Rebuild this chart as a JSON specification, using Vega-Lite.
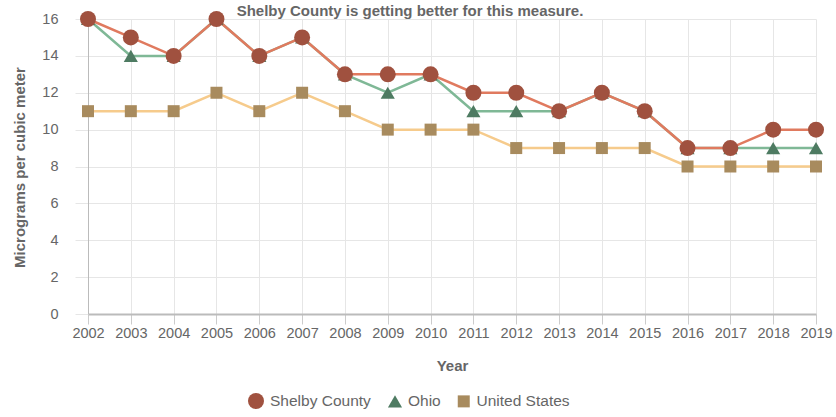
{
  "$schema": "https://vega.github.io/schema/vega-lite/v6.json",
  "autosize": {"type": "none"},
  "width": 728,
  "height": 295,
  "padding": {"left": 88, "top": 19, "right": 20, "bottom": 103},
  "background": "white",
  "config": {
    "font": "Liberation Sans",
    "view": {"stroke": null},
    "axis": {"labelColor": "#666666", "labelFontSize": 14.5, "titleColor": "#666666", "titleFontSize": 15, "titleFontWeight": "bold", "gridColor": "#e6e6e6", "tickColor": "#cccccc", "domainColor": "#bbbbbb", "domainWidth": 2}
  },
  "title": {"text": "Shelby County is getting better for this measure.", "fontSize": 15, "fontWeight": "bold", "color": "#666666", "anchor": "middle", "dx": -42, "offset": -8},
  "data": {"values": [
    {"year": 2002, "series": "United States", "value": 11},
    {"year": 2003, "series": "United States", "value": 11},
    {"year": 2004, "series": "United States", "value": 11},
    {"year": 2005, "series": "United States", "value": 12},
    {"year": 2006, "series": "United States", "value": 11},
    {"year": 2007, "series": "United States", "value": 12},
    {"year": 2008, "series": "United States", "value": 11},
    {"year": 2009, "series": "United States", "value": 10},
    {"year": 2010, "series": "United States", "value": 10},
    {"year": 2011, "series": "United States", "value": 10},
    {"year": 2012, "series": "United States", "value": 9},
    {"year": 2013, "series": "United States", "value": 9},
    {"year": 2014, "series": "United States", "value": 9},
    {"year": 2015, "series": "United States", "value": 9},
    {"year": 2016, "series": "United States", "value": 8},
    {"year": 2017, "series": "United States", "value": 8},
    {"year": 2018, "series": "United States", "value": 8},
    {"year": 2019, "series": "United States", "value": 8},
    {"year": 2002, "series": "Ohio", "value": 16},
    {"year": 2003, "series": "Ohio", "value": 14},
    {"year": 2004, "series": "Ohio", "value": 14},
    {"year": 2005, "series": "Ohio", "value": 16},
    {"year": 2006, "series": "Ohio", "value": 14},
    {"year": 2007, "series": "Ohio", "value": 15},
    {"year": 2008, "series": "Ohio", "value": 13},
    {"year": 2009, "series": "Ohio", "value": 12},
    {"year": 2010, "series": "Ohio", "value": 13},
    {"year": 2011, "series": "Ohio", "value": 11},
    {"year": 2012, "series": "Ohio", "value": 11},
    {"year": 2013, "series": "Ohio", "value": 11},
    {"year": 2014, "series": "Ohio", "value": 12},
    {"year": 2015, "series": "Ohio", "value": 11},
    {"year": 2016, "series": "Ohio", "value": 9},
    {"year": 2017, "series": "Ohio", "value": 9},
    {"year": 2018, "series": "Ohio", "value": 9},
    {"year": 2019, "series": "Ohio", "value": 9},
    {"year": 2002, "series": "Shelby County", "value": 16},
    {"year": 2003, "series": "Shelby County", "value": 15},
    {"year": 2004, "series": "Shelby County", "value": 14},
    {"year": 2005, "series": "Shelby County", "value": 16},
    {"year": 2006, "series": "Shelby County", "value": 14},
    {"year": 2007, "series": "Shelby County", "value": 15},
    {"year": 2008, "series": "Shelby County", "value": 13},
    {"year": 2009, "series": "Shelby County", "value": 13},
    {"year": 2010, "series": "Shelby County", "value": 13},
    {"year": 2011, "series": "Shelby County", "value": 12},
    {"year": 2012, "series": "Shelby County", "value": 12},
    {"year": 2013, "series": "Shelby County", "value": 11},
    {"year": 2014, "series": "Shelby County", "value": 12},
    {"year": 2015, "series": "Shelby County", "value": 11},
    {"year": 2016, "series": "Shelby County", "value": 9},
    {"year": 2017, "series": "Shelby County", "value": 9},
    {"year": 2018, "series": "Shelby County", "value": 10},
    {"year": 2019, "series": "Shelby County", "value": 10}
  ]},
  "encoding": {
    "x": {"field": "year", "type": "ordinal", "scale": {"type": "point", "padding": 0},
      "axis": {"title": "Year", "labelAngle": 0, "grid": true, "tickSize": 10, "labelPadding": 2, "titlePadding": 19, "domainColor": "#bbbbbb"}},
    "y": {"field": "value", "type": "quantitative", "scale": {"domain": [0, 16], "nice": false},
      "axis": {"title": "Micrograms per cubic meter", "values": [0, 2, 4, 6, 8, 10, 12, 14, 16], "tickSize": 13, "tickColor": "#e6e6e6", "labelPadding": 17, "domainColor": "#bbbbbb", "domainWidth": 1, "titleX": -61, "titleY": 148}}
  },
  "layer": [
    {"transform": [{"filter": "datum.series === 'United States'"}], "mark": {"type": "line", "color": "#F6CB8C", "strokeWidth": 2.5}, "encoding": {}},
    {"transform": [{"filter": "datum.series === 'Ohio'"}], "mark": {"type": "line", "color": "#7FB896", "strokeWidth": 2.5}, "encoding": {}},
    {"transform": [{"filter": "datum.series === 'Shelby County'"}], "mark": {"type": "line", "color": "#E07A5F", "strokeWidth": 2.5}, "encoding": {}},
    {"mark": {"type": "point", "filled": true, "opacity": 1},
      "encoding": {
        "color": {"field": "series", "type": "nominal",
          "scale": {"domain": ["Shelby County", "Ohio", "United States"], "range": ["#A0513F", "#4E7B62", "#A88B5E"]},
          "legend": {"title": null, "orient": "none", "direction": "horizontal", "legendX": 159, "legendY": 373, "symbolSize": 480, "labelFontSize": 15.5, "labelColor": "#666666", "labelOffset": 5, "columnPadding": 13, "symbolOpacity": 1}},
        "shape": {"field": "series", "type": "nominal",
          "scale": {"domain": ["Shelby County", "Ohio", "United States"], "range": ["circle", "triangle-up", "square"]}},
        "size": {"field": "series", "type": "nominal",
          "scale": {"domain": ["Shelby County", "Ohio", "United States"], "range": [256, 144, 144]}, "legend": null}
      }}
  ]
}
